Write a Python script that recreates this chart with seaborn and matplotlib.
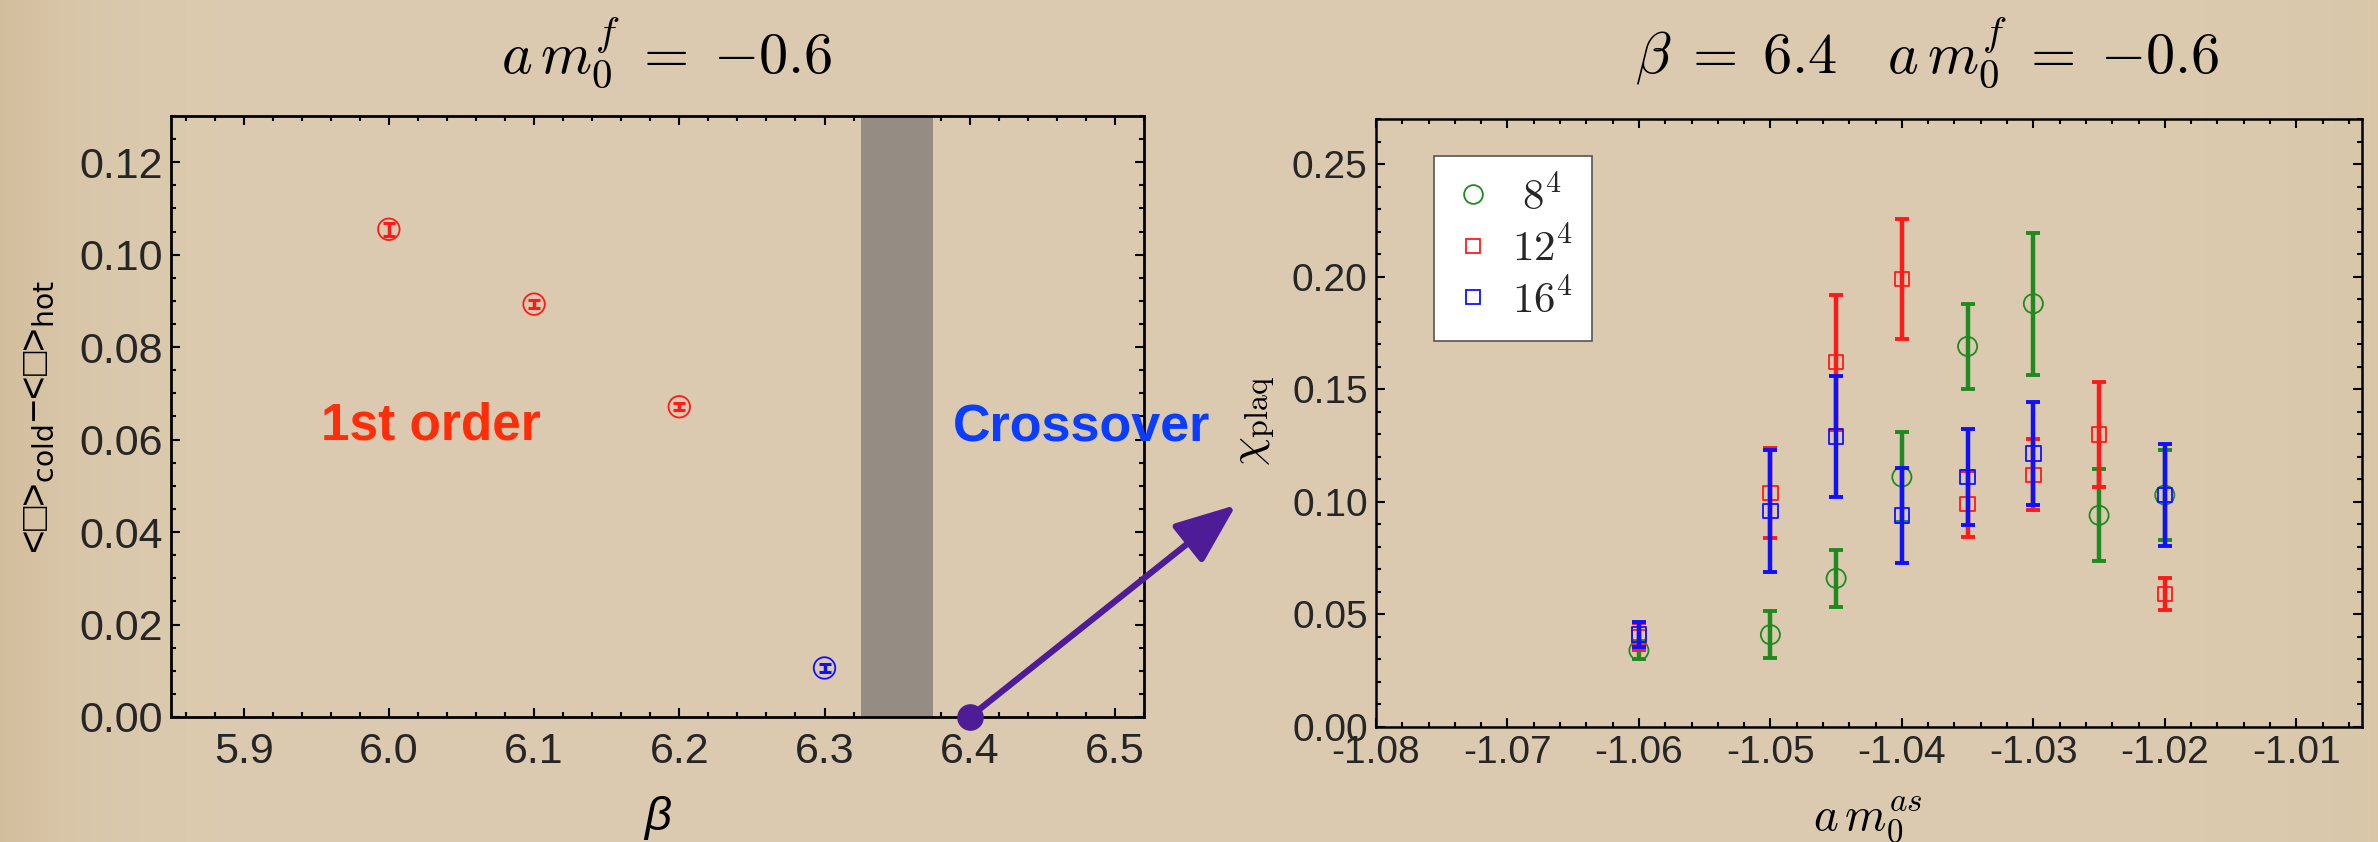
import numpy as np
import matplotlib
matplotlib.use("Agg")
import matplotlib.pyplot as plt
from matplotlib.lines import Line2D
from matplotlib.ticker import MultipleLocator, FormatStrFormatter
import seaborn as sns

# ---- left panel: plaquette gap between cold and hot starts ----
beta = [6.0, 6.1, 6.2, 6.3]
gap = [0.1055, 0.0893, 0.0671, 0.0106]
gap_err = [0.0014, 0.0008, 0.0008, 0.0009]
gap_is_first_order = [True, True, True, False]
band_beta = (6.325, 6.375)
beta_marked = 6.4

# ---- right panel: plaquette susceptibility vs a m0^as ----
m_as = [-1.06, -1.05, -1.045, -1.04, -1.035, -1.03, -1.025, -1.02]
chi_8 = [0.034, 0.041, 0.066, 0.111, 0.169, 0.188, 0.094, 0.103]
chi_8_err = [0.004, 0.0105, 0.0125, 0.020, 0.019, 0.0315, 0.0205, 0.020]
chi_12 = [0.040, 0.104, 0.162, 0.199, 0.099, 0.112, 0.130, 0.059]
chi_12_err = [0.006, 0.020, 0.030, 0.0265, 0.0147, 0.0157, 0.0232, 0.0071]
m_as_16 = [-1.06, -1.05, -1.045, -1.04, -1.035, -1.03, -1.02]
chi_16 = [0.041, 0.096, 0.129, 0.094, 0.111, 0.1215, 0.103]
chi_16_err = [0.0055, 0.027, 0.027, 0.0212, 0.0212, 0.0227, 0.0228]
volume_labels = [r"$\;8^4$", r"$12^4$", r"$16^4$"]

sns.set_theme(style="ticks")
plt.rcParams["font.family"] = ["Liberation Sans", "DejaVu Sans"]
plt.rcParams["mathtext.fontset"] = "cm"
plt.rcParams["axes.unicode_minus"] = True

PAPER = "#dccab0"
RED = "#ff1a1a"
BLUE = "#1010ff"
GREEN = "#1f8a1f"
PURPLE = "#4e1c96"

W, H = 2378, 842
fig = plt.figure(figsize=(W / 100, H / 100), dpi=100, facecolor=PAPER)

# soft darkening towards the left edge of the sheet
bg = fig.add_axes([0, 0, 1, 1], zorder=-10)
xs = np.linspace(0, 1, 600)
ys = np.linspace(0, 1, 200)
X, Y = np.meshgrid(xs, ys)
shade = 0.10 * np.exp(-X * W / 70.0) + 0.03 * np.exp(-(1 - X) * W / 120.0)
base = np.array([220, 203, 176]) / 255.0
edge = np.array([196, 168, 124]) / 255.0
img = base[None, None, :] * (1 - shade[..., None] * 4) + edge[None, None, :] * (shade[..., None] * 4)
bg.imshow(np.clip(img, 0, 1), extent=(0, 1, 0, 1), aspect="auto", origin="lower")
bg.set_axis_off()


def px_rect(x0, y_top, x1, y_bot):
    return [x0 / W, 1 - y_bot / H, (x1 - x0) / W, (y_bot - y_top) / H]


def style_axes(ax, lbl_size, pad_x, pad_y, spine_w):
    ax.set_facecolor("none")
    for s in ax.spines.values():
        s.set_linewidth(spine_w)
        s.set_color("black")
    ax.tick_params(which="both", direction="in", top=True, right=True,
                   color="black", width=1.5)
    ax.tick_params(which="major", length=6.5)
    ax.tick_params(which="minor", length=3.8)
    ax.tick_params(axis="x", which="major", labelsize=lbl_size, pad=pad_x)
    ax.tick_params(axis="y", which="major", labelsize=lbl_size, pad=pad_y)


# ================= left panel =================
ax1 = fig.add_axes(px_rect(171, 116, 1144, 717))
ax1.axvspan(*band_beta, color="#958c83", lw=0, zorder=1)

for b, g, e, first in zip(beta, gap, gap_err, gap_is_first_order):
    c = RED if first else BLUE
    ax1.errorbar([b], [g], yerr=[e], fmt="none", ecolor=c, elinewidth=2.5,
                 capsize=4, capthick=2.2, zorder=3)
    sns.scatterplot(x=[b], y=[g], ax=ax1, marker="o", s=240, color=c,
                    facecolor="none", edgecolor=c, linewidth=1.3, zorder=4)

ax1.set_xlim(5.85, 6.52)
ax1.set_ylim(0, 0.13)
ax1.xaxis.set_major_locator(MultipleLocator(0.1))
ax1.xaxis.set_minor_locator(MultipleLocator(0.02))
ax1.yaxis.set_major_locator(MultipleLocator(0.02))
ax1.yaxis.set_minor_locator(MultipleLocator(0.005))
ax1.xaxis.set_major_formatter(FormatStrFormatter("%.1f"))
ax1.yaxis.set_major_formatter(FormatStrFormatter("%.2f"))
style_axes(ax1, 31, 11, 6, 2.0)
ax1.set_xlabel("")
ax1.set_ylabel("")

# marked point and arrow pointing to the right panel
ax1.scatter([beta_marked], [0], s=330, color=PURPLE, zorder=6, clip_on=False)
ax1.annotate("", xy=(1236, H - 505), xycoords="figure pixels",
             xytext=(beta_marked, 0), textcoords="data",
             arrowprops=dict(arrowstyle="-|>,head_length=1.25,head_width=0.5",
                             color=PURPLE, lw=4.5, shrinkA=0, shrinkB=0,
                             mutation_scale=30),
             annotation_clip=False, zorder=5)

fig.text(667 / W, 1 - 73 / H, r"$a\,m_0^f\;=\;{-}0.6$", ha="center",
         va="baseline", fontsize=42, color="black")
fig.text(37 / W, 1 - 417 / H,
         r"<□>$_\mathrm{cold}$−<□>$_\mathrm{hot}$", rotation=90,
         ha="center", va="center", fontsize=29, color="black",
         math_fontfamily="dejavusans")
fig.text(658 / W, 1 - 830 / H, "β", ha="center", va="baseline",
         fontsize=34, style="italic", color="black")
fig.text(321 / W, 1 - 440 / H, "1st order", ha="left", va="baseline",
         fontsize=37, fontweight="bold", color="#ff2d0a")
fig.text(953 / W, 1 - 441 / H, "Crossover", ha="left", va="baseline",
         fontsize=37.5, fontweight="bold", color="#0a3dff")

# ================= right panel =================
ax2 = fig.add_axes(px_rect(1376, 119, 2362, 727))
series = [
    (m_as, chi_8, chi_8_err, GREEN, "o", 190),
    (m_as, chi_12, chi_12_err, RED, "s", 110),
    (m_as_16, chi_16, chi_16_err, BLUE, "s", 110),
]
for k, (xv, yv, ev, c, mk, sz) in enumerate(series):
    ax2.errorbar(xv, yv, yerr=ev, fmt="none", ecolor=c, elinewidth=3.2,
                 capsize=5, capthick=2.8, zorder=3 + k)
    sns.scatterplot(x=xv, y=yv, ax=ax2, marker=mk, s=sz, color=c,
                    facecolor="none", edgecolor=c, linewidth=1.3,
                    zorder=3 + k)

ax2.set_xlim(-1.08, -1.005)
ax2.set_ylim(0, 0.27)
ax2.xaxis.set_major_locator(MultipleLocator(0.01))
ax2.xaxis.set_minor_locator(MultipleLocator(0.002))
ax2.yaxis.set_major_locator(MultipleLocator(0.05))
ax2.yaxis.set_minor_locator(MultipleLocator(0.01))
ax2.xaxis.set_major_formatter(FormatStrFormatter("%.2f"))
ax2.yaxis.set_major_formatter(FormatStrFormatter("%.2f"))
style_axes(ax2, 28, 6, 6, 1.8)
ax2.set_xlabel("")
ax2.set_ylabel("")

handles = [
    Line2D([], [], ls="none", marker="o", ms=13.5, mfc="none", mec=GREEN, mew=1.3),
    Line2D([], [], ls="none", marker="s", ms=10.5, mfc="none", mec=RED, mew=1.3),
    Line2D([], [], ls="none", marker="s", ms=10.5, mfc="none", mec=BLUE, mew=1.3),
]
leg = ax2.legend(handles, volume_labels, loc="upper left",
                 bbox_to_anchor=(1434 / W, 1 - 156 / H),
                 bbox_transform=fig.transFigure, borderaxespad=0,
                 fontsize=31, frameon=True, fancybox=False, framealpha=1,
                 edgecolor="#555555", facecolor="white", labelspacing=0.2,
                 handletextpad=0.45, handlelength=0.9, borderpad=0.45)
leg.get_frame().set_linewidth(1.2)

fig.text(1927 / W, 1 - 73 / H, r"$\beta\;=\;6.4\quad a\,m_0^f\;=\;{-}0.6$",
         ha="center", va="baseline", fontsize=42, color="black")
fig.text(1255 / W, 1 - 421 / H, r"$\chi_{\mathrm{plaq}}$", rotation=90,
         ha="center", va="center", fontsize=33, color="black")
fig.text(1868 / W, 1 - 830 / H, r"$a\,m_0^{as}$", ha="center",
         va="baseline", fontsize=34, color="black")

fig.savefig("out.png", dpi=100, facecolor=PAPER)
